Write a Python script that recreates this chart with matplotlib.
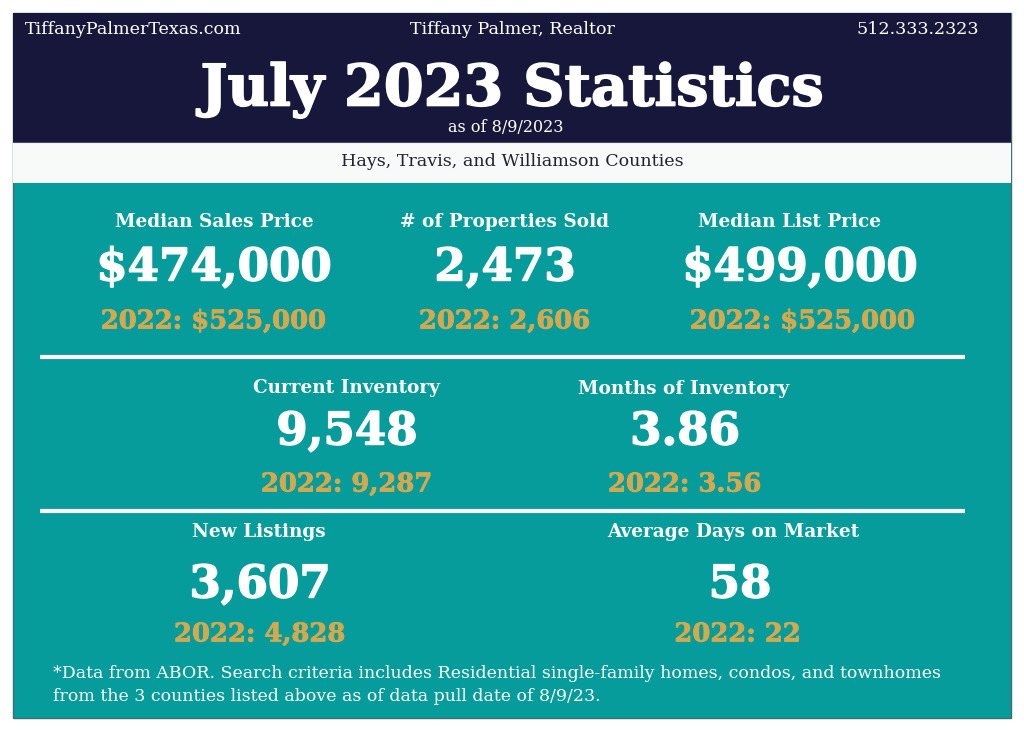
import matplotlib.pyplot as plt
import matplotlib.patches as mpatches
import matplotlib.patheffects as pe

NAVY = "#17173b"
TEAL = "#069c9b"
GOLD = "#d4a94e"
WHITE = "#ffffff"

# header texts
SITE = "TiffanyPalmerTexas.com"
AGENT = "Tiffany Palmer, Realtor"
PHONE = "512.333.2323"
TITLE = "July 2023 Statistics"
AS_OF = "as of 8/9/2023"
AREA = "Hays, Travis, and Williamson Counties"

# stats
labels = ["Median Sales Price", "# of Properties Sold", "Median List Price",
          "Current Inventory", "Months of Inventory",
          "New Listings", "Average Days on Market"]
values_2023 = ["$474,000", "2,473", "$499,000", "9,548", "3.86", "3,607", "58"]
values_2022 = ["$525,000", "2,606", "$525,000", "9,287", "3.56", "4,828", "22"]

FOOTNOTE = ("*Data from ABOR. Search criteria includes Residential single-family homes, condos, and townhomes\n"
            "from the 3 counties listed above as of data pull date of 8/9/23.")

# layout (pixel positions, top-left origin)
lab_xy = [(214, 222), (505, 222), (789, 222), (346, 388), (684, 389), (259, 532), (733, 532)]
val_xy = [(214, 268), (505, 268), (800, 268), (347, 432), (685, 432), (260, 585), (740, 585)]
old_xy = [(214, 321), (505, 321), (803, 321), (347, 484), (685, 484), (260, 634), (738, 634)]

plt.rcParams["font.family"] = ["DejaVu Serif"]

fig = plt.figure(figsize=(10.24, 7.31), dpi=100)
ax = fig.add_axes([0, 0, 1, 1])
ax.set_xlim(0, 1024)
ax.set_ylim(731, 0)
ax.axis("off")

# panels
ax.add_patch(mpatches.Rectangle((13, 13), 998, 705, facecolor=TEAL, edgecolor="#3f6f72", lw=1))
ax.add_patch(mpatches.Rectangle((13, 13), 998, 129, facecolor=NAVY, edgecolor="none"))
ax.add_patch(mpatches.Rectangle((13, 142), 998, 41, facecolor="#f8fafa", edgecolor="none"))
ax.plot([13, 1011], [142, 142], color="#4b4b66", lw=0.8)

# header
ax.text(25, 29, SITE, color=WHITE, fontsize=12.6, ha="left", va="center")
ax.text(512, 29, AGENT, color=WHITE, fontsize=12.6, ha="center", va="center")
ax.text(979, 29, PHONE, color=WHITE, fontsize=12.6, ha="right", va="center")
ax.text(512, 90, TITLE, color=WHITE, fontsize=41.2, fontweight="bold", ha="center", va="center",
        path_effects=[pe.withStroke(linewidth=1.2, foreground=WHITE)])
ax.text(506, 127, AS_OF, color=WHITE, fontsize=11.5, ha="center", va="center")
ax.text(512, 161, AREA, color="#222233", fontsize=12.6, ha="center", va="center")

# divider lines
for y in (357, 511):
    ax.plot([40, 965], [y, y], color=WHITE, lw=3, solid_capstyle="butt")

for lab, v23, v22, lp, vp, op in zip(labels, values_2023, values_2022, lab_xy, val_xy, old_xy):
    ax.text(lp[0], lp[1], lab, color=WHITE, fontsize=13.3, fontweight="bold", ha="center", va="center")
    ax.text(vp[0], vp[1], v23, color=WHITE, fontsize=32.5, fontweight="bold", ha="center", va="center",
            path_effects=[pe.withStroke(linewidth=1.0, foreground=WHITE)])
    ax.text(op[0], op[1], f"2022: {v22}", color=GOLD, fontsize=18.6, fontweight="bold",
            ha="center", va="center",
            path_effects=[pe.withStroke(linewidth=0.6, foreground=GOLD)])

ax.text(53, 685, FOOTNOTE, color=WHITE, fontsize=12.5, ha="left", va="center", linespacing=1.45)

fig.savefig("out.png", dpi=100, facecolor="white")
